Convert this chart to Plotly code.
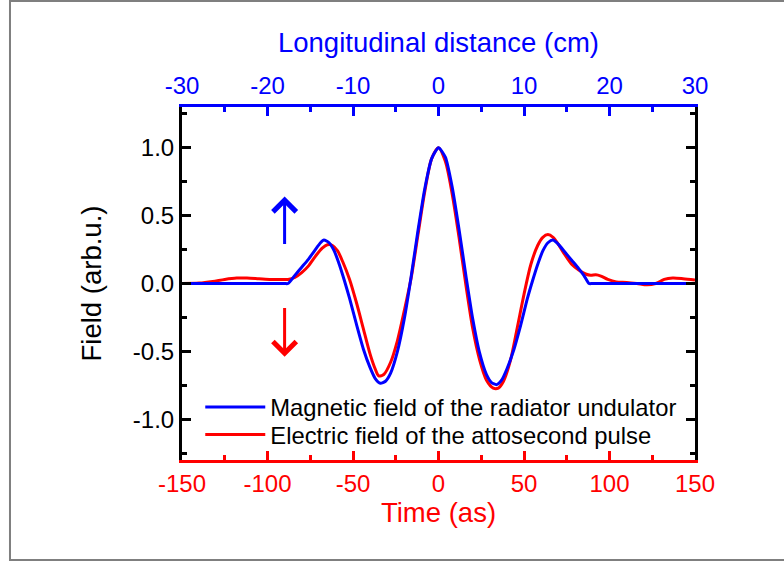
import plotly.graph_objects as go

# ---- data ----
time_blue = [-150, -100, -90, -88, -84, -80, -76, -72, -69, -67, -64, -61, -58, -55, -52,
             -48, -44, -40, -37, -34, -31, -28, -24, -20, -16, -12, -8, -4, 0,
             4, 8, 12, 16, 20, 24, 28, 31, 34, 37, 40, 44, 48, 52, 55, 58, 61, 64,
             67, 70, 74, 78, 82, 85, 88, 90, 100, 150]
field_blue = [0, 0, 0, 0, 0.06, 0.12, 0.18, 0.25, 0.30, 0.32, 0.30, 0.24, 0.14, 0.02, -0.11,
              -0.30, -0.48, -0.62, -0.70, -0.735, -0.72, -0.66, -0.50, -0.26, 0.05, 0.39, 0.70, 0.92, 1.0,
              0.93, 0.71, 0.40, 0.06, -0.26, -0.51, -0.67, -0.73, -0.745, -0.71, -0.63, -0.49, -0.31, -0.11, 0.02, 0.14, 0.24, 0.30,
              0.32, 0.29, 0.23, 0.17, 0.11, 0.06, 0, 0, 0, 0]

time_red = [-150, -140, -132, -125, -118, -112, -105, -98, -92, -88, -84, -80, -76, -72, -68,
            -65, -62, -59, -56, -52, -48, -44, -40, -37, -35, -32, -28, -24, -20, -16,
            -12, -8, -4, 0, 4, 8, 12, 16, 20, 24, 28, 32, 35, 38, 42, 46, 50, 54, 58,
            61, 64, 67, 70, 74, 78, 82, 86, 89, 92, 95, 99, 104, 110, 116, 122, 127,
            132, 137, 143, 150]
field_red = [0, 0.003, 0.015, 0.03, 0.04, 0.04, 0.035, 0.03, 0.03, 0.03, 0.045, 0.08, 0.13, 0.20, 0.26,
             0.285, 0.28, 0.24, 0.16, 0.03, -0.14, -0.33, -0.52, -0.63, -0.68, -0.67, -0.58, -0.42, -0.20, 0.04,
             0.36, 0.68, 0.92, 1.0, 0.90, 0.66, 0.34, -0.01, -0.33, -0.56, -0.71, -0.77, -0.77, -0.72, -0.57, -0.33, -0.08, 0.14, 0.28,
             0.34, 0.36, 0.34, 0.29, 0.21, 0.14, 0.10, 0.07, 0.06, 0.065, 0.055, 0.03, 0.012, 0.008, 0.0, -0.01, 0.0,
             0.03, 0.04, 0.035, 0.025]

y_tickvals = [-1.0, -0.5, 0.0, 0.5, 1.0]
y_ticktext = ["-1.0", "-0.5", "0.0", "0.5", "1.0"]
t_tickvals = [-150, -100, -50, 0, 50, 100, 150]
t_ticktext = ["-150", "-100", "-50", "0", "50", "100", "150"]
d_tickvals = [-30, -20, -10, 0, 10, 20, 30]
d_ticktext = ["-30", "-20", "-10", "0", "10", "20", "30"]

label_blue = "Magnetic field of the radiator undulator"
label_red = "Electric field of the attosecond pulse"

# arrow positions (time, field)
arrow_up = dict(x=-90, tail=0.28, head=0.64)
arrow_down = dict(x=-90, tail=-0.17, head=-0.54)

FONT = "Liberation Sans, Arial, sans-serif"
BLUE = "#0000FF"
RED = "#FF0000"
TICK_SIZE = 24
TITLE_SIZE = 27.5
LEGEND_SIZE = 23.8

fig = go.Figure()
fig.add_trace(go.Scatter(x=time_red, y=field_red, mode="lines", name=label_red,
                         line=dict(color=RED, width=3, shape="spline", smoothing=0.8),
                         legend="legend2"))
fig.add_trace(go.Scatter(x=time_blue, y=field_blue, mode="lines", name=label_blue,
                         line=dict(color=BLUE, width=3, shape="spline", smoothing=0.6),
                         legend="legend"))
# helper (invisible) trace so the top axis is attached
fig.add_trace(go.Scatter(x=[d_tickvals[0], d_tickvals[-1]], y=[None, None], xaxis="x2",
                         mode="lines", showlegend=False, hoverinfo="skip"))

legend_common = dict(x=0.0356, xanchor="left", yanchor="middle",
                     bgcolor="rgba(0,0,0,0)", font=dict(size=LEGEND_SIZE, color="black"),
                     itemwidth=60)

fig.update_layout(
    width=784, height=562,
    margin=dict(l=182, r=89, t=107, b=102),
    paper_bgcolor="white", plot_bgcolor="white",
    font=dict(family=FONT, size=TICK_SIZE, color="black"),
    showlegend=True,
    legend=dict(y=0.150, **legend_common),
    legend2=dict(y=0.072, **legend_common),
    xaxis=dict(range=[-150, 150], tickmode="array", tickvals=t_tickvals, ticktext=t_ticktext,
               ticks="inside", ticklen=9, tickwidth=2.5, tickcolor=RED,
               showline=True, linecolor=RED, linewidth=3, mirror=False,
               showgrid=False, zeroline=False,
               tickfont=dict(color=RED, size=TICK_SIZE),
               minor=dict(dtick=25, tick0=0, ticks="inside", ticklen=5, tickwidth=2.5, tickcolor=RED),
               title=dict(text="Time (as)", font=dict(color=RED, size=TITLE_SIZE), standoff=5)),
    xaxis2=dict(range=[-30, 30], overlaying="x", side="top", anchor="y",
                tickmode="array", tickvals=d_tickvals, ticktext=d_ticktext,
                ticks="inside", ticklen=9, tickwidth=2.5, tickcolor=BLUE,
                showline=True, linecolor=BLUE, linewidth=3,
                showgrid=False, zeroline=False,
                tickfont=dict(color=BLUE, size=TICK_SIZE),
                minor=dict(dtick=5, tick0=0, ticks="inside", ticklen=5, tickwidth=2.5, tickcolor=BLUE),
                title=dict(text="Longitudinal distance (cm)", font=dict(color=BLUE, size=TITLE_SIZE), standoff=12)),
    yaxis=dict(range=[-1.3, 1.3], tickmode="array", tickvals=y_tickvals, ticktext=y_ticktext,
               ticks="inside", ticklen=9, tickwidth=2.5, tickcolor="black",
               showline=True, linecolor="black", linewidth=3, mirror="ticks",
               showgrid=False, zeroline=False,
               tickfont=dict(color="black", size=TICK_SIZE),
               minor=dict(dtick=0.25, tick0=0, ticks="inside", ticklen=5, tickwidth=2.5, tickcolor="black"),
               title=dict(text="Field (arb.u.)", font=dict(color="black", size=TITLE_SIZE), standoff=24)),
    shapes=[dict(type="rect", xref="paper", yref="paper",
                 x0=-0.3353, x1=1.2, y0=-0.283, y1=1.300,
                 line=dict(color="#7f7f7f", width=2), fillcolor="rgba(0,0,0,0)", layer="below")],
)

for arr, col in ((arrow_up, BLUE), (arrow_down, RED)):
    fig.add_annotation(x=arr["x"], y=arr["head"], ax=arr["x"], ay=arr["tail"],
                       xref="x", yref="y", axref="x", ayref="y", text="",
                       showarrow=True, arrowhead=4, arrowsize=1.5, arrowwidth=3, arrowcolor=col)

fig.write_html("out.html", config={"displayModeBar": False},
               post_script="document.body.style.margin='0px';")
